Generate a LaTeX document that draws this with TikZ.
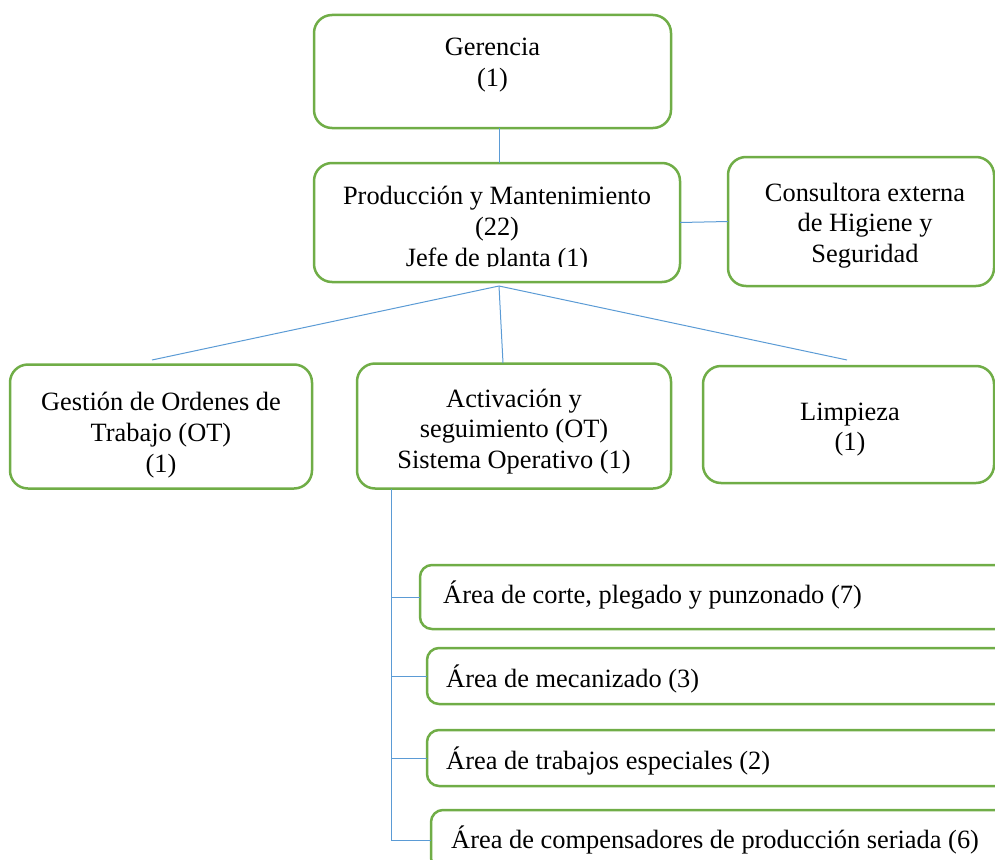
\documentclass[tikz,border=0pt]{standalone}
\usepackage{fontspec}
\setmainfont{Liberation Serif}
\definecolor{grn}{HTML}{70AD47}
\definecolor{blu}{HTML}{5B9BD5}
\begin{document}
\begin{tikzpicture}[x=1pt,y=-1pt,
 box/.style={draw=grn, line width=2.5pt, rounded corners=18pt, inner sep=0pt, outer sep=0pt},
 sbox/.style={box, rounded corners=12pt},
 lbl/.style={align=center, inner sep=0pt, font=\fontsize{26.4}{30.8}\selectfont},
 llbl/.style={anchor=base west, inner sep=0pt, font=\fontsize{26.4}{30.8}\selectfont},
 conn/.style={draw=blu, line width=1pt}]
\useasboundingbox (0,0) rectangle (995,859);
\clip (0,0) rectangle (995,859);
% boxes
\node[box, minimum width=357pt, minimum height=113pt] (ger) at (492.5,71.5) {};
\node[box, minimum width=366pt, minimum height=119pt] (prod) at (497,222.5) {};
\node[box, minimum width=266pt, minimum height=129pt] (cons) at (861,221.5) {};
\node[box, minimum width=302pt, minimum height=124pt] (gest) at (161,426.5) {};
\node[box, minimum width=314pt, minimum height=125pt] (act) at (514,426) {};
\node[box, minimum width=291pt, minimum height=117pt] (limp) at (848.5,424.5) {};
\node[sbox, minimum width=600pt, minimum height=64pt] (b1) at (720,597) {};
\node[sbox, minimum width=590pt, minimum height=56pt] (b2) at (722,676) {};
\node[sbox, minimum width=590pt, minimum height=56pt] (b3) at (722,758) {};
\node[sbox, minimum width=590pt, minimum height=60pt] (b4) at (726,840) {};
% texts
\node[lbl] (gerT) at (492.5,65) {Gerencia\\(1)};
\begin{scope}
\clip (314,163) rectangle (680,266);
\node[lbl] (prodT) at (497,229) {Producción y Mantenimiento\\(22)\\Jefe de planta (1)};
\end{scope}
\node[lbl] (consT) at (865,225.5) {Consultora externa\\de Higiene y\\Seguridad};
\node[lbl] (gestT) at (161,435) {Gestión de Ordenes de\\Trabajo (OT)\\(1)};
\node[lbl] (actT) at (514,431.5) {Activación y\\seguimiento (OT)\\Sistema Operativo (1)};
\node[lbl] (limpT) at (850,429.5) {Limpieza\\(1)};
\node[llbl] (b1T) at (443,603) {Área de corte, plegado y punzonado (7)};
\node[llbl] (b2T) at (446,687) {Área de mecanizado (3)};
\node[llbl] (b3T) at (446,769) {Área de trabajos especiales (2)};
\node[llbl] (b4T) at (451,848) {Área de compensadores de producción seriada (6)};
% connector coordinates
\coordinate (hub) at (499,286);
\coordinate (gestTop) at (152,360);
\coordinate (actTop) at (503,363);
\coordinate (limpTop) at (847,360);
\coordinate (bus) at (391,0);
% connectors
\draw[conn] (ger.south -| hub) -- (prod.north -| hub);
\draw[conn] (prod.east) -- (cons.west);
\draw[conn] (hub) -- (gestTop);
\draw[conn] (hub) -- (actTop);
\draw[conn] (hub) -- (limpTop);
\draw[conn] (act.south -| bus) -- (bus |- b4.west);
\draw[conn] (bus |- b1.west) -- (b1.west);
\draw[conn] (bus |- b2.west) -- (b2.west);
\draw[conn] (bus |- b3.west) -- (b3.west);
\draw[conn] (bus |- b4.west) -- (b4.west);
\end{tikzpicture}
\end{document}
